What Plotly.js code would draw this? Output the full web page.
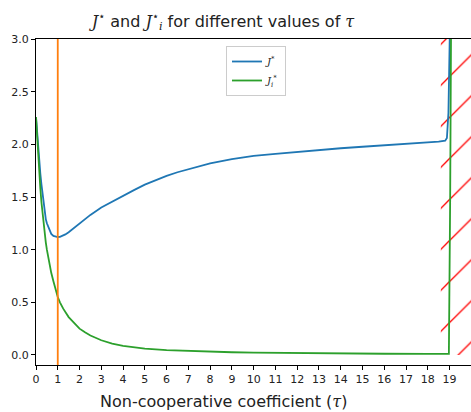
<!DOCTYPE html>
<html>
<head>
<meta charset="utf-8">
<script src="https://cdn.plot.ly/plotly-3.0.1.min.js"></script>
<style>
html, body { margin: 0; padding: 0; overflow: hidden; background: #fff; }
#chart { width: 480px; height: 412px; }
</style>
</head>
<body>
<div id="chart"></div>
<script>
// --- data ---
const tauJ = [0, 0.05, 0.1, 0.15, 0.2, 0.25, 0.3, 0.35, 0.4, 0.45, 0.5, 0.6, 0.65, 0.7, 0.8, 0.9, 1.0, 1.1, 1.2, 1.35, 1.5, 1.75, 2, 2.5, 3, 3.5, 4, 4.5, 5, 5.5, 6, 6.5, 7, 7.5, 8, 9, 10, 11, 12, 13, 14, 15, 16, 17, 18, 18.5, 18.8, 18.88, 18.95, 19.0, 19.05];
const Jstar = [2.26, 2.11, 1.97, 1.84, 1.72, 1.62, 1.52, 1.42, 1.34, 1.29, 1.25, 1.19, 1.165, 1.15, 1.13, 1.122, 1.12, 1.122, 1.13, 1.145, 1.165, 1.205, 1.25, 1.33, 1.40, 1.457, 1.512, 1.565, 1.617, 1.66, 1.70, 1.735, 1.765, 1.795, 1.82, 1.86, 1.89, 1.91, 1.93, 1.948, 1.963, 1.977, 1.99, 2.003, 2.015, 2.025, 2.035, 2.06, 2.3, 2.7, 3.5];

const tauJi = [0, 0.05, 0.1, 0.15, 0.2, 0.25, 0.3, 0.35, 0.4, 0.45, 0.5, 0.6, 0.7, 0.8, 0.9, 1.0, 1.1, 1.25, 1.5, 1.75, 2, 2.25, 2.5, 3, 3.5, 4, 4.5, 5, 6, 7, 8, 9, 10, 12, 14, 16, 18, 18.97, 19.03, 19.08];
const JiStar = [2.26, 2.06, 1.88, 1.72, 1.58, 1.45, 1.34, 1.24, 1.15, 1.07, 1.0, 0.88, 0.78, 0.70, 0.62, 0.55, 0.50, 0.44, 0.36, 0.30, 0.25, 0.215, 0.185, 0.14, 0.108, 0.087, 0.072, 0.061, 0.047, 0.038, 0.031, 0.026, 0.022, 0.017, 0.014, 0.012, 0.011, 0.012, 1.5, 3.5];

const tauOptimal = 1;             // vertical orange marker
const hatchX = [18.6, 21, 21, 18.6];   // hatched (infeasible) region
const hatchY = [0, 0, 3, 3];

const xTicks = [0,1,2,3,4,5,6,7,8,9,10,11,12,13,14,15,16,17,18,19];
const yTicks = [0, 0.5, 1.0, 1.5, 2.0, 2.5, 3.0];
const yTickText = ['0.0','0.5','1.0','1.5','2.0','2.5','3.0'];

const serif = (s) => `<span style="font-family:'DejaVu Serif'"><i>${s}</i></span>`;

const traces = [
  {
    x: hatchX, y: hatchY, type: 'scatter', mode: 'lines',
    fill: 'toself', fillcolor: 'rgba(0,0,0,0)',
    fillpattern: { shape: '/', fgcolor: '#ff0000', bgcolor: 'rgba(0,0,0,0)', size: 29, solidity: 0.045, fgopacity: 1 },
    line: { width: 0, color: 'rgba(0,0,0,0)' },
    showlegend: false, hoverinfo: 'skip'
  },
  {
    x: tauJ, y: Jstar, type: 'scatter', mode: 'lines',
    name: serif('J') + '<sup>*</sup>',
    line: { color: '#1f77b4', width: 1.8 }
  },
  {
    x: tauJi, y: JiStar, type: 'scatter', mode: 'lines',
    name: serif('J') + '<sub>' + serif('i') + '</sub><sup>*</sup>',
    line: { color: '#2ca02c', width: 1.8 }
  }
];

const layout = {
  width: 480, height: 412,
  margin: { l: 36, r: 0, t: 39, b: 47 },
  paper_bgcolor: '#ffffff', plot_bgcolor: '#ffffff',
  font: { family: 'DejaVu Sans', color: '#222222', size: 11 },
  title: {
    text: serif('J') + '<sup>⋆</sup> and ' + serif('J') + '<sup>⋆</sup><sub>' + serif('i') + '</sub> for different values of ' + serif('τ'),
    font: { family: 'DejaVu Sans', size: 16, color: '#222222' },
    xref: 'container', x: 223 / 480, xanchor: 'center',
    yref: 'container', y: 1 - 21.5 / 412, yanchor: 'middle'
  },
  xaxis: {
    range: [0, 20.4], tickvals: xTicks, ticktext: xTicks.map(String),
    showgrid: false, zeroline: false,
    showline: true, linecolor: '#000000', linewidth: 1, mirror: true,
    ticks: 'outside', ticklen: 4, tickwidth: 1, tickcolor: '#000000',
    tickfont: { family: 'DejaVu Sans', size: 11, color: '#222222' }
  },
  yaxis: {
    range: [-0.095, 3.0], tickvals: yTicks, ticktext: yTickText,
    showgrid: false, zeroline: false,
    showline: true, linecolor: '#000000', linewidth: 1,
    ticks: 'outside', ticklen: 4, tickwidth: 1, tickcolor: '#000000',
    tickfont: { family: 'DejaVu Sans', size: 11, color: '#222222' }
  },
  shapes: [
    { type: 'line', xref: 'x', yref: 'paper', x0: tauOptimal, x1: tauOptimal, y0: 0, y1: 1,
      line: { color: '#ff7f0e', width: 1.8 } }
  ],
  annotations: [
    { text: 'Non-cooperative coefficient (' + serif('τ') + ')', xref: 'paper', yref: 'paper',
      x: (223 - 36) / 444, y: (365 - 401.5) / 326, xanchor: 'center', yanchor: 'middle',
      showarrow: false, font: { family: 'DejaVu Sans', size: 16, color: '#222222' } }
  ],
  legend: {
    x: (226 - 36) / 444, y: (365 - 46) / 326, xanchor: 'left', yanchor: 'top',
    bgcolor: '#ffffff', bordercolor: '#cccccc', borderwidth: 1,
    font: { family: 'DejaVu Sans', size: 10, color: '#222222' },
    itemwidth: 30, tracegroupgap: 0
  },
  showlegend: true
};

Plotly.newPlot('chart', traces, layout, { displayModeBar: false, staticPlot: true });
</script>
</body>
</html>
